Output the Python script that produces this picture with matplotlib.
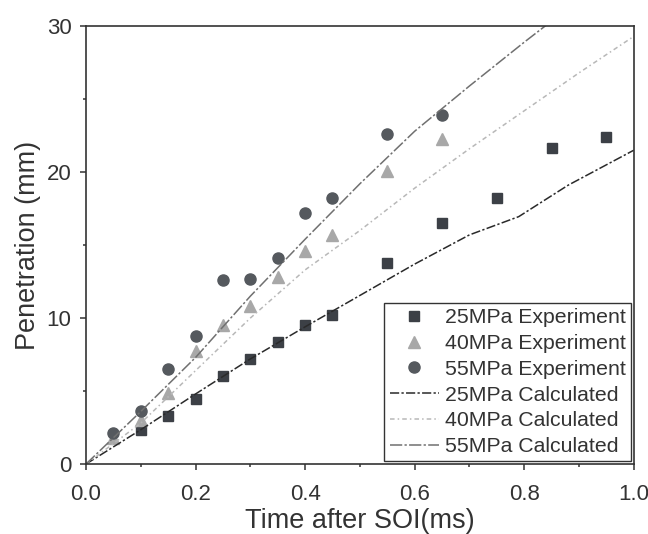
import matplotlib
matplotlib.use("Agg")
import matplotlib.pyplot as plt
from matplotlib.ticker import MultipleLocator, FormatStrFormatter

plt.rcParams['font.family'] = ['Liberation Sans', 'DejaVu Sans']

# Experimental data
t_exp = [0.05, 0.10, 0.15, 0.20, 0.25, 0.30, 0.35, 0.40, 0.45, 0.55, 0.65]
t_exp25 = [0.10, 0.15, 0.20, 0.25, 0.30, 0.35, 0.40, 0.45, 0.55, 0.65, 0.75, 0.85, 0.95]
exp25 = [2.35, 3.3, 4.45, 6.0, 7.2, 8.35, 9.5, 10.2, 13.75, 16.5, 18.2, 21.65, 22.4]
exp40 = [1.8, 3.0, 4.85, 7.75, 9.5, 10.8, 12.8, 14.6, 15.7, 20.1, 22.25]
exp55 = [2.1, 3.65, 6.5, 8.75, 12.6, 12.7, 14.15, 17.2, 18.2, 22.6, 23.9]

# Calculated curves
t_calc = [0.0, 0.1, 0.2, 0.3, 0.4, 0.5, 0.6, 0.7, 0.79, 0.88, 1.0]
calc25 = [0.0, 2.35, 4.8, 7.2, 9.4, 11.55, 13.7, 15.7, 16.95, 19.1, 21.5]
t_calc2 = [0.0, 0.1, 0.2, 0.3, 0.4, 0.5, 0.6, 0.7, 0.8, 0.9, 1.0]
calc40 = [0.0, 2.8, 6.4, 10.0, 13.3, 16.0, 18.9, 21.6, 24.2, 26.8, 29.3]
calc55 = [0.0, 3.6, 7.3, 11.5, 15.4, 19.2, 22.8, 25.9, 28.9, 31.8, 34.7]

fig = plt.figure(figsize=(6.48, 5.34), dpi=100)
ax = fig.add_axes([0.1327, 0.131, 0.8453, 0.82])

ax.plot(t_exp25, exp25, linestyle='none', marker='s', color='#3c4046', markersize=7.5, label='25MPa Experiment')
ax.plot(t_exp, exp40, linestyle='none', marker='^', color='#a8a8a8', markersize=8.5, label='40MPa Experiment')
ax.plot(t_exp, exp55, linestyle='none', marker='o', color='#55595e', markersize=8, label='55MPa Experiment')
ax.plot(t_calc, calc25, linestyle=(0, (6, 1.5, 1.5, 1.5)), color='#2a2a2a', linewidth=1.1, label='25MPa Calculated')
ax.plot(t_calc2, calc40, linestyle=(0, (3, 2, 1, 2)), color='#b8b8b8', linewidth=1.1, label='40MPa Calculated')
ax.plot(t_calc2, calc55, linestyle=(0, (8, 1.5, 1.5, 1.5)), color='#707070', linewidth=1.1, label='55MPa Calculated')

ax.set_xlim(0, 1.0)
ax.set_ylim(0, 30)
ax.xaxis.set_major_locator(MultipleLocator(0.2))
ax.xaxis.set_minor_locator(MultipleLocator(0.1))
ax.yaxis.set_major_locator(MultipleLocator(10))
ax.yaxis.set_minor_locator(MultipleLocator(5))
ax.xaxis.set_major_formatter(FormatStrFormatter('%.1f'))
ax.tick_params(which='major', direction='out', length=4.5, width=1.1, labelsize=16, colors='#333333')
ax.tick_params(axis='x', which='major', pad=10)
ax.tick_params(axis='y', which='major', pad=6)
ax.tick_params(which='minor', direction='out', length=2.5, width=1.1, colors='#333333')
for s in ax.spines.values():
    s.set_linewidth(1.2)
    s.set_color('#333333')

ax.set_xlabel('Time after SOI(ms)', fontsize=19.5, color='#333333', labelpad=2)
ax.set_ylabel('Penetration (mm)', fontsize=19.5, color='#333333', labelpad=4)

leg = ax.legend(loc='lower right', fontsize=15.3, frameon=True, fancybox=False,
                edgecolor='#333333', framealpha=1, borderaxespad=0.12,
                handlelength=2.3, handletextpad=0.3, labelspacing=0.32,
                borderpad=0.25)
leg.get_frame().set_linewidth(1.0)
for t in leg.get_texts():
    t.set_color('#333333')

fig.savefig('out.png', dpi=100)
